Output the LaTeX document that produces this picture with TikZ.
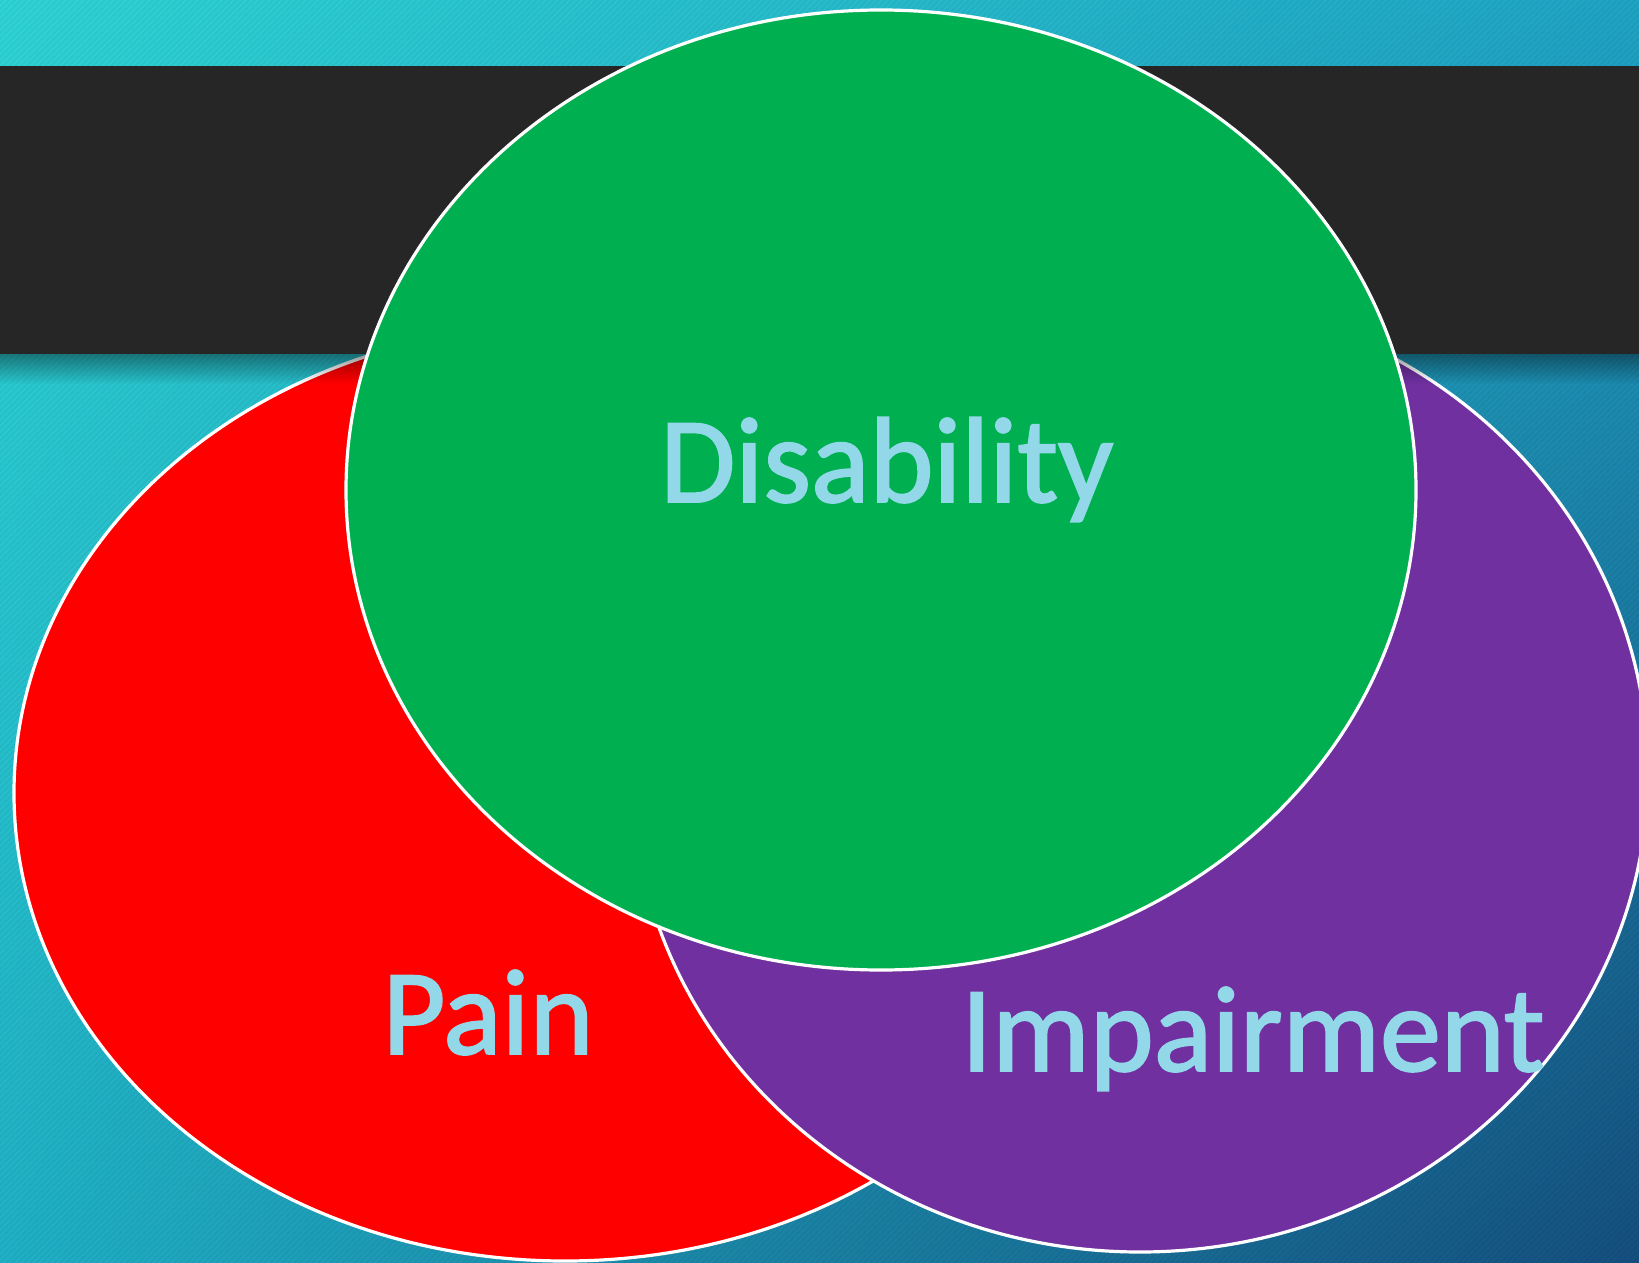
\documentclass[tikz,border=0pt]{standalone}
\usepackage{fontspec}
\setmainfont{Carlito}
\newfontfamily\vennfont{Carlito}[FakeBold=1.6]
\usetikzlibrary{shapes.geometric,shadings,patterns,fadings}

\definecolor{bgtopleft}{HTML}{2ED3D3}
\definecolor{bgtopright}{HTML}{1FA3C3}
\definecolor{bgbotleft}{HTML}{1FB0C5}
\definecolor{bgbotright}{HTML}{154E7E}
\definecolor{bandgrey}{HTML}{262626}
\definecolor{painred}{HTML}{FF0000}
\definecolor{impairpurple}{HTML}{7030A0}
\definecolor{disabgreen}{HTML}{00B050}
\definecolor{vennblue}{HTML}{92D8E8}

\tikzfading[name=bandshadow, top color=transparent!60, bottom color=transparent!100]

\begin{document}
\begin{tikzpicture}[x=0.5pt,y=-0.5pt,
    venn/.style={ellipse, draw=white, line width=1.6pt, inner sep=0pt},
    vennlabel/.style={anchor=base, text=vennblue, inner sep=0pt,
      font=\vennfont\fontsize{61}{70}\selectfont}]
  \useasboundingbox (0,0) rectangle (1639,1263);
  \clip (0,0) rectangle (1639,1263);

  % backdrop with faint stripes
  \shade[upper left=bgtopleft, upper right=bgtopright,
         lower left=bgbotleft, lower right=bgbotright] (0,0) rectangle (1639,1263);
  \fill[pattern=north east lines, pattern color=black, opacity=0.06] (0,0) rectangle (1639,1263);

  % lower sets, tucked under the bar
  \node[venn, fill=painred, minimum width=551pt, minimum height=468pt] (pain) at (565,793) {};
  \node[venn, fill=impairpurple, minimum width=508pt, minimum height=479pt] (impair) at (1140,773) {};

  % title bar and its shadow
  \fill[bandgrey] (-20,66) rectangle (1660,354);
  \fill[black, path fading=bandshadow] (-40,354) rectangle (1680,384);

  % top set
  \node[venn, fill=disabgreen, minimum width=535pt, minimum height=480pt] (disab) at (881,490) {};

  \node[vennlabel] (disablbl) at (887,502) {Disability};
  \node[vennlabel] (painlbl) at (488,1054) {Pain};
  \node[vennlabel] (impairlbl) at (1253,1071) {Impairment};
\end{tikzpicture}
\end{document}
